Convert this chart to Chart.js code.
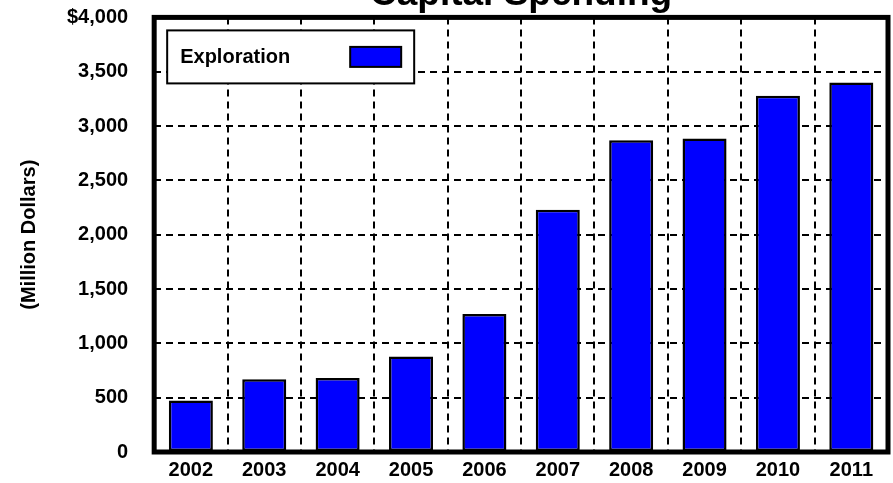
<!DOCTYPE html>
<html>
<head>
<meta charset="utf-8">
<script src="https://cdn.jsdelivr.net/npm/chart.js@4/dist/chart.umd.min.js"></script>
<style>
  html, body { margin: 0; padding: 0; background: #fff; overflow: hidden; }
  body { width: 893px; height: 483px; position: relative; }
  #wrap { position: absolute; left: 0; top: -27px; width: 893px; height: 517px; }
</style>
</head>
<body>
<div id="wrap"><canvas id="chart"></canvas></div>
<script>
// Exploration capital spending, million dollars
const years = ['2002', '2003', '2004', '2005', '2006', '2007', '2008', '2009', '2010', '2011'];
const exploration = [475, 670, 680, 880, 1270, 2230, 2870, 2885, 3280, 3400];
const yTickLabels = ['0', '500', '1,000', '1,500', '2,000', '2,500', '3,000', '3,500', '$4,000'];
const seriesName = 'Exploration';
const chartTitle = 'Capital Spending';
const yAxisTitle = '(Million Dollars)';

const FONT = "'Liberation Sans', Arial, Helvetica, sans-serif";
Chart.defaults.font.family = FONT;
Chart.defaults.font.weight = 'bold';
Chart.defaults.color = '#000';

// Heavy black frame around the plotting area
const framePlugin = {
  id: 'frame',
  afterDatasetsDraw(chart) {
    const { ctx, chartArea: a } = chart;
    ctx.save();
    ctx.strokeStyle = '#000';
    ctx.lineWidth = 5;
    ctx.strokeRect(a.left, a.top, a.right - a.left, a.bottom - a.top);
    ctx.restore();
  }
};

// Boxed legend inside the plot: label on the left, swatch on the right
const boxedLegend = {
  id: 'boxedLegend',
  afterDraw(chart) {
    const { ctx, chartArea: a } = chart;
    const ds = chart.data.datasets[0];
    const pad = 13, gap = 60, swW = 51, swH = 20, boxH = 53;
    ctx.save();
    ctx.font = 'bold 20px ' + FONT;
    const tw = ctx.measureText(ds.label).width;
    const x = a.left + 13, y = a.top + 13;
    const w = pad + tw + gap + swW + pad;
    ctx.fillStyle = '#fff';
    ctx.fillRect(x, y, w, boxH);
    ctx.strokeStyle = '#000';
    ctx.lineWidth = 2;
    ctx.strokeRect(x, y, w, boxH);
    ctx.fillStyle = '#000';
    ctx.textBaseline = 'middle';
    ctx.textAlign = 'left';
    ctx.fillText(ds.label, x + pad, y + boxH / 2 + 1);
    const sx = x + pad + tw + gap, sy = y + (boxH - swH) / 2;
    ctx.fillStyle = ds.backgroundColor;
    ctx.fillRect(sx, sy, swW, swH);
    ctx.strokeRect(sx, sy, swW, swH);
    ctx.restore();
  }
};

new Chart(document.getElementById('chart'), {
  type: 'bar',
  data: {
    labels: years,
    datasets: [{
      label: seriesName,
      data: exploration,
      backgroundColor: '#0000ff',
      borderColor: '#000',
      borderWidth: 2.5,
      borderSkipped: false,
      barPercentage: 0.6,
      categoryPercentage: 1.0
    }]
  },
  options: {
    responsive: true,
    maintainAspectRatio: false,
    animation: false,
    devicePixelRatio: 1,
    layout: { padding: { left: 13, right: 5, top: 0, bottom: 1 } },
    plugins: {
      legend: { display: false },
      tooltip: { enabled: false },
      title: {
        display: true,
        fullSize: false,
        text: chartTitle,
        color: '#000',
        font: { size: 37, weight: 'bold' },
        padding: { top: 0, bottom: 0 }
      }
    },
    scales: {
      x: {
        grid: { color: '#000', lineWidth: 2, drawTicks: false, offset: true },
        border: { display: false, dash: [7, 5] },
        ticks: { color: '#000', font: { size: 20, weight: 'bold' }, padding: 6, maxRotation: 0 }
      },
      y: {
        min: 0,
        max: 4000,
        grid: { color: '#000', lineWidth: 2, drawTicks: false },
        border: { display: false, dash: [7, 5] },
        ticks: {
          stepSize: 500,
          color: '#000',
          font: { size: 20, weight: 'bold' },
          padding: 26,
          callback: (v, i) => yTickLabels[i]
        },
        title: {
          display: true,
          text: yAxisTitle,
          color: '#000',
          font: { size: 20, weight: 'bold' },
          padding: { top: 4, bottom: 0 }
        }
      }
    }
  },
  plugins: [framePlugin, boxedLegend]
});
</script>
</body>
</html>
